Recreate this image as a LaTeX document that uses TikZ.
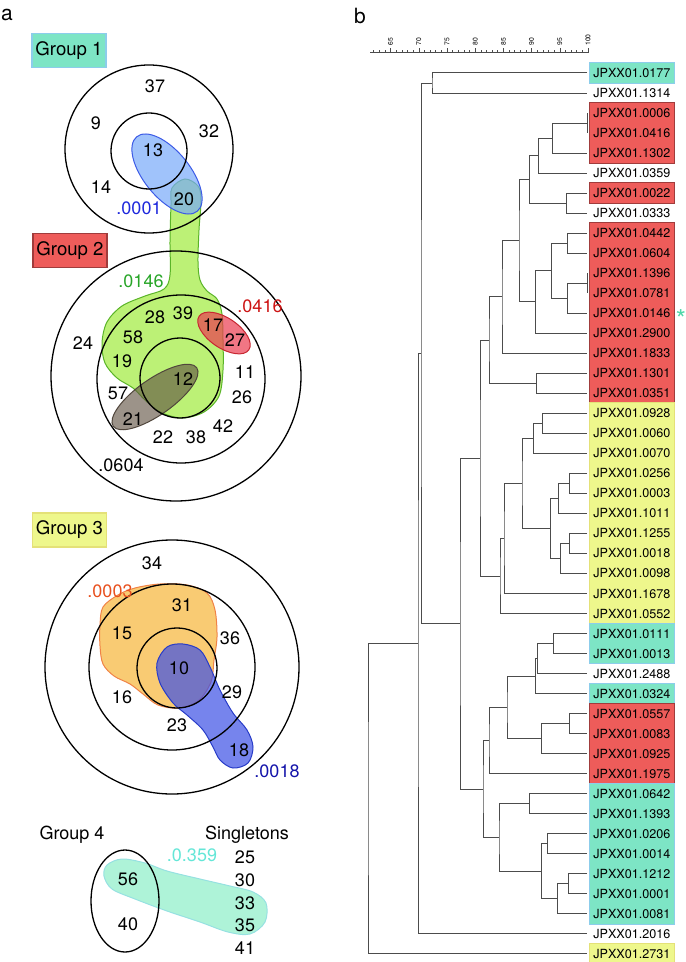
\documentclass[tikz,border=0pt]{standalone}
\usepackage{fontspec}
\setmainfont{TeX Gyre Heros}
\usetikzlibrary{calc, backgrounds, fit}
\definecolor{grpteal}{RGB}{125,229,197}
\definecolor{grptealline}{RGB}{140,205,235}
\definecolor{grpred}{RGB}{238,92,90}
\definecolor{grpredline}{RGB}{160,60,60}
\definecolor{grpyellow}{RGB}{238,247,140}
\definecolor{grpyellowline}{RGB}{228,225,120}
\definecolor{vgreen}{RGB}{160,235,60}
\definecolor{vgreenline}{RGB}{90,180,40}
\definecolor{vblue}{RGB}{120,170,250}
\definecolor{vblueline}{RGB}{60,90,230}
\definecolor{vred}{RGB}{235,60,80}
\definecolor{vredline}{RGB}{200,40,50}
\definecolor{vgray}{RGB}{95,80,65}
\definecolor{vgrayline}{RGB}{80,70,60}
\definecolor{vorange}{RGB}{248,190,80}
\definecolor{vorangeline}{RGB}{240,130,70}
\definecolor{vindigo}{RGB}{60,80,230}
\definecolor{vindigoline}{RGB}{40,60,200}
\definecolor{vteal}{RGB}{120,235,190}
\definecolor{vtealline}{RGB}{150,225,225}
\definecolor{pblue}{RGB}{30,40,220}
\definecolor{pgreen}{RGB}{40,165,40}
\definecolor{pred}{RGB}{205,20,20}
\definecolor{porange}{RGB}{232,80,30}
\definecolor{pnavy}{RGB}{20,20,170}
\definecolor{pcyan}{RGB}{100,230,215}
\definecolor{starteal}{RGB}{80,215,170}

\newcommand\clade[4]{%
  \coordinate (mid) at ($(#3)!.5!(#4)$);
  \coordinate (#1) at (#2,0 |- mid);
  \draw[branch] (#3) -| (#1) |- (#4);}

\begin{document}
\begin{tikzpicture}[
    x=0.5pt, y=-0.5pt,
    num/.style={font=\fontsize{9}{10}\selectfont, inner sep=0pt},
    pval/.style={font=\fontsize{9}{10}\selectfont, inner sep=0pt},
    grp/.style={rectangle, line width=0.6pt, minimum width=37pt, minimum height=17pt, inner sep=0pt, font=\fontsize{9.3}{10}\selectfont},
    ring/.style={draw=black, line width=0.65pt},
    blob/.style={line width=0.5pt, fill opacity=0.7},
    leaf/.style={anchor=west, minimum width=42.5pt, minimum height=10pt, inner sep=0pt, font=\fontsize{6.3}{7}\selectfont},
    hl/.style={rectangle, inner sep=0pt, line width=0.5pt},
    redhl/.style={hl, fill=grpred, draw=grpredline},
    tealhl/.style={hl, fill=grpteal, draw=grptealline},
    yellowhl/.style={hl, fill=grpyellow, draw=grpyellowline},
    branch/.style={draw=black!70, line width=0.5pt}
]
\useasboundingbox (0,0) rectangle (685,962);

\node[font=\fontsize{10.5}{11}\selectfont, inner sep=0pt] (pa) at (7,15) {a};
\node[font=\fontsize{10.5}{11}\selectfont, inner sep=0pt] (pb) at (360,16) {b};

% panel a
\node[grp, fill=grpteal, draw=grptealline] (g1) at (69,50.5) {Group 1};
\node[grp, fill=grpred, draw=grpredline] (g2) at (70,250.5) {Group 2};
\node[grp, fill=grpyellow, draw=grpyellowline] (g3) at (69.5,530) {Group 3};
\node[num] (g4) at (72,835) {Group 4};
\node[num] (single) at (247,835) {Singletons};

\fill[blob, fill=vgreen, draw=vgreenline] plot[smooth cycle, tension=0.55] coordinates {
  (171,205) (172,188) (185,179) (198,186) (201,200) (199,230) (198,262) (200,280)
  (207,291) (217,299) (222,314) (223,340) (223,370) (219,396) (204,412) (182,418)
  (160,412) (145,400) (133,388) (117,378) (105,363) (102,343) (107,322) (122,306)
  (145,296) (164,289) (170,275) (170,240)};
\fill[blob, fill=vblue, draw=vblueline, rotate around={-51:(167,174)}] (167,174) ellipse[x radius=48, y radius=23];
\fill[blob, fill=vred, draw=vredline, rotate around={-34:(224,333)}] (224,333) ellipse[x radius=30, y radius=15];
\fill[blob, fill=vgray, draw=vgrayline, fill opacity=0.62, rotate around={35:(155,397)}] (155,397) ellipse[x radius=51, y radius=18];
\fill[blob, fill=vorange, draw=vorangeline, fill opacity=0.8] plot[smooth cycle, tension=0.55] coordinates {
  (103,607) (118,595) (135,588) (160,584) (187,585) (207,593) (215,610) (217,637)
  (214,660) (211,682) (198,701) (178,708) (158,705) (143,694) (130,684) (114,676)
  (103,664) (100,646) (100,625)};
\fill[blob, fill=vindigo, draw=vindigoline] plot[smooth cycle, tension=0.55] coordinates {
  (167,647) (183,644) (200,650) (210,667) (220,690) (233,713) (247,730) (253,747)
  (248,763) (233,768) (220,760) (213,747) (203,730) (187,715) (173,703) (160,683)
  (157,663)};
\fill[blob, fill=vteal, draw=vtealline, fill opacity=0.6] plot[smooth cycle, tension=0.55] coordinates {
  (107,865) (122,859) (145,863) (167,871) (200,879) (230,886) (253,892) (266,903)
  (265,922) (250,934) (228,932) (200,922) (167,911) (135,899) (112,889) (104,876)};

\draw[ring] (149,149) circle[radius=84];
\draw[ring] (149,151) circle[radius=38];
\draw[ring] (176,376) circle[radius=125];
\draw[ring] (181,379) circle[radius=84];
\draw[ring] (180,378) circle[radius=40];
\draw[ring] (172,667) circle[radius=127];
\draw[ring] (172,667) circle[radius=83];
\draw[ring] (177,668) circle[radius=40];
\draw[ring] (125,901) ellipse[x radius=34, y radius=51];

\foreach \t/\x/\y in {37/155/86, 9/96/123, 32/209/131, 13/153/150, 14/101/187, 20/184/199,
    24/83/343, 28/155/317, 39/183/313, 58/133/337, 19/122/361, 57/118/393, 12/183/379,
    21/133/419, 22/163/437, 38/196/437, 42/223/426, 17/213/325, 27/235/340, 11/245/372, 26/242/397,
    34/152/563, 31/182/605, 15/122/633, 36/230/638, 10/179/668, 29/232/692, 16/122/697,
    23/177/725, 18/239/750, 56/128/879, 40/128/924,
    25/245/857, 30/245/880, 33/245/903, 35/245/925, 41/245/948}
  \node[num] (n\t) at (\x,\y) {\t};

\node[pval, text=pblue] (p0001) at (139,208) {.0001};
\node[pval, text=pgreen] (p0146) at (141,281) {.0146};
\node[pval, text=pred] (p0416) at (260,306) {.0416};
\node[pval] (p0604) at (121,465) {.0604};
\node[pval, text=porange] (p0003) at (110,591) {.0003};
\node[pval, text=pnavy] (p0018) at (277,771) {.0018};
\node[pval, text=pcyan] (p0359) at (192,855) {.0.359};

% panel b
\draw[branch] (370,53) -- (588,53);
\foreach \v in {62,...,100}
  \draw[branch, line width=0.3pt] ({588-(100-\v)*5.64},53) -- ++(0,-2.5);
\foreach \v in {65,70,...,100} {
  \draw[branch, line width=0.3pt] ({588-(100-\v)*5.64},53) -- ++(0,-4.5);
  \node[rotate=90, anchor=west, inner sep=0pt, font=\fontsize{3.4}{4}\selectfont] (s\v) at ({588-(100-\v)*5.64},46) {\v};
}

\foreach \id [count=\i from 0] in {0177,1314,0006,0416,1302,0359,0022,0333,0442,0604,
    1396,0781,0146,2900,1833,1301,0351,0928,0060,0070,0256,0003,1011,1255,0018,0098,
    1678,0552,0111,0013,2488,0324,0557,0083,0925,1975,0642,1393,0206,0014,1212,0001,
    0081,2016,2731} {
  \coordinate (e\id) at (587,{73+20.02*\i});
  \node[leaf] (j\id) at (589,{73+20.02*\i}) {JPXX01.\id};
}

\begin{scope}[on background layer]
\node[tealhl, fit=(j0177)] (h1) {};
\node[redhl, fit=(j0006)(j1302)] (h2) {};
\node[redhl, fit=(j0022)] (h3) {};
\node[redhl, fit=(j0442)(j0351)] (h4) {};
\node[yellowhl, fit=(j0928)(j0552)] (h5) {};
\node[tealhl, fit=(j0111)(j0013)] (h6) {};
\node[tealhl, fit=(j0324)] (h7) {};
\node[redhl, fit=(j0557)(j1975)] (h8) {};
\node[tealhl, fit=(j0642)(j0081)] (h9) {};
\node[yellowhl, fit=(j2731)] (h10) {};
\end{scope}

\node[text=starteal, font=\fontsize{13}{13}\selectfont, inner sep=0pt] (star) at (681,319) {*};

\clade{b1}{432}{e0177}{e1314}
\clade{b2}{587}{e0006}{e0416}
\clade{b3}{552}{b2}{e1302}
\clade{b4}{538}{b3}{e0359}
\clade{b5}{566}{e0022}{e0333}
\clade{b6}{529}{b4}{b5}
\clade{b7}{567}{e0442}{e0604}
\clade{b8}{587}{e1396}{e0781}
\clade{b9}{567}{b8}{e0146}
\clade{b10}{551}{b7}{b9}
\clade{b11}{535}{b10}{e2900}
\clade{b12}{519}{b6}{b11}
\clade{b13}{502}{b12}{e1833}
\clade{b14}{536}{e1301}{e0351}
\clade{b15}{489}{b13}{b14}
\clade{b16}{542}{e0928}{e0060}
\clade{b17}{533}{b16}{e0070}
\clade{b18}{569}{e0256}{e0003}
\clade{b19}{558}{b18}{e1011}
\clade{b20}{569}{e1255}{e0018}
\clade{b21}{560}{b20}{e0098}
\clade{b22}{550}{b19}{b21}
\clade{b23}{522}{b17}{b22}
\clade{b24}{504}{b23}{e1678}
\clade{b25}{500}{b24}{e0552}
\clade{b26}{480}{b15}{b25}
\clade{b27}{553}{e0111}{e0013}
\clade{b28}{537}{b27}{e2488}
\clade{b29}{535}{b28}{e0324}
\clade{b30}{569}{e0557}{e0083}
\clade{b31}{541}{b30}{e0925}
\clade{b32}{507}{b29}{b31}
\clade{b33}{489}{b32}{e1975}
\clade{b34}{529}{e0642}{e1393}
\clade{b35}{547}{e0206}{e0014}
\clade{b36}{568}{e1212}{e0001}
\clade{b37}{557}{b36}{e0081}
\clade{b38}{541}{b35}{b37}
\clade{b39}{499}{b34}{b38}
\clade{b40}{483}{b33}{b39}
\clade{b41}{460}{b26}{b40}
\clade{b42}{421}{b1}{b41}
\clade{b43}{418}{b42}{e2016}
\clade{b44}{368}{b43}{e2731}

\end{tikzpicture}
\end{document}
